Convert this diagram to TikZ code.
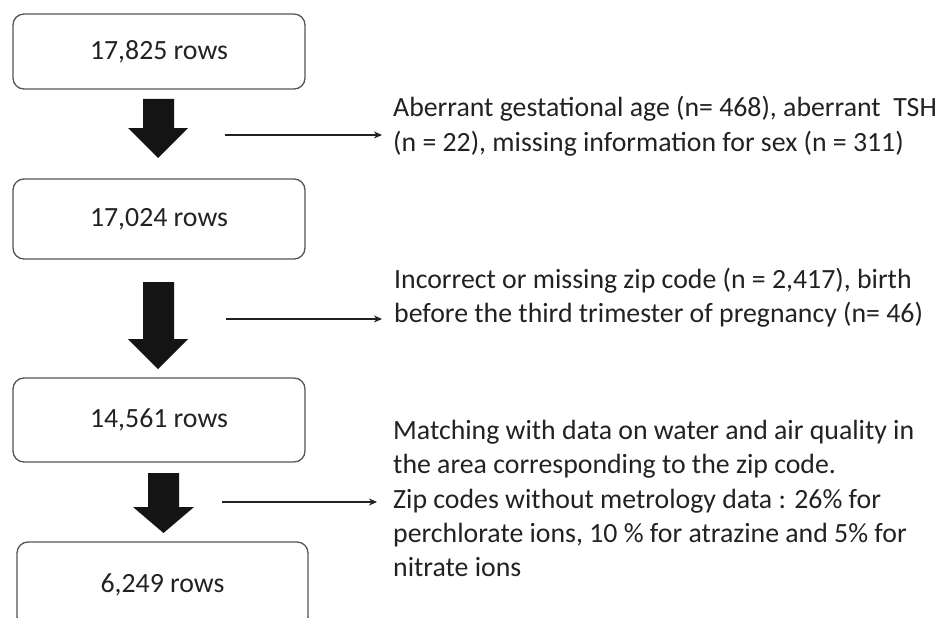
\documentclass[tikz,border=0pt]{standalone}
\usepackage{fontspec}
\setmainfont{Carlito}
\usetikzlibrary{arrows.meta}
\definecolor{txt}{HTML}{222222}
\definecolor{edge}{HTML}{555555}
\tikzset{
  rowbox/.style={draw=edge, line width=1.3pt, rounded corners=11pt, fill=white,
    minimum width=292pt, inner sep=0pt, text=txt, font=\fontsize{27.8}{34}\selectfont},
  blockarrow/.style={fill=black!92},
  thinarrow/.style={draw=txt, line width=1.1pt, -{Stealth[length=8pt,width=7pt]}},
  sidetext/.style={anchor=base west, inner sep=0pt, text=txt, font=\fontsize{27.8}{34.3}\selectfont}
}
\begin{document}
\begin{tikzpicture}[x=1pt,y=-1pt]
\clip (0,0) rectangle (946,618);
\fill[white] (0,0) rectangle (946,618);

% boxes
\node[rowbox, minimum height=75pt] (b1) at (159,51.5) {17,825 rows};
\node[rowbox, minimum height=80pt] (b2) at (159,219) {17,024 rows};
\node[rowbox, minimum height=84pt] (b3) at (159,420) {14,561 rows};
\node[rowbox, minimum width=291pt, minimum height=86pt] (b4) at (162.5,585) {6,249 rows};

% block arrows
\fill[blockarrow] (143,99) -- (174,99) -- (174,128) -- (188,128) -- (158,158) -- (128,128) -- (143,128) -- cycle;
\fill[blockarrow] (143,282) -- (174,282) -- (174,339) -- (188,339) -- (158,369) -- (128,339) -- (143,339) -- cycle;
\fill[blockarrow] (148,473) -- (179,473) -- (179,507) -- (194,507) -- (163.5,533) -- (133,507) -- (148,507) -- cycle;

% side texts
\node[sidetext] (s1) at (393,117) {\vtop{\hbox{Aberrant gestational age (n= 468), aberrant\ \ TSH}\hbox{(n = 22), missing information for sex (n = 311)}}};
\node[sidetext] (s2) at (394,288) {\vtop{\hbox{Incorrect or missing zip code (n = 2,417), birth}\hbox{before the third trimester of pregnancy (n= 46)}}};
\node[sidetext] (s3) at (393,439.5) {\vtop{\hbox{Matching with data on water and air quality in}\hbox{the area corresponding to the zip code.}\hbox{Zip codes without metrology data : 26\% for}\hbox{perchlorate ions, 10 \% for atrazine and 5\% for}\hbox{nitrate ions}}};

% thin arrows
\coordinate (a1) at (225,135);
\coordinate (a2) at (226,319);
\coordinate (a3) at (222,502);
\draw[thinarrow] (a1) -- ([xshift=-11pt]a1 -| s1.west);
\draw[thinarrow] (a2) -- ([xshift=-12pt]a2 -| s2.west);
\draw[thinarrow] (a3) -- ([xshift=-16pt]a3 -| s3.west);
\end{tikzpicture}
\end{document}
